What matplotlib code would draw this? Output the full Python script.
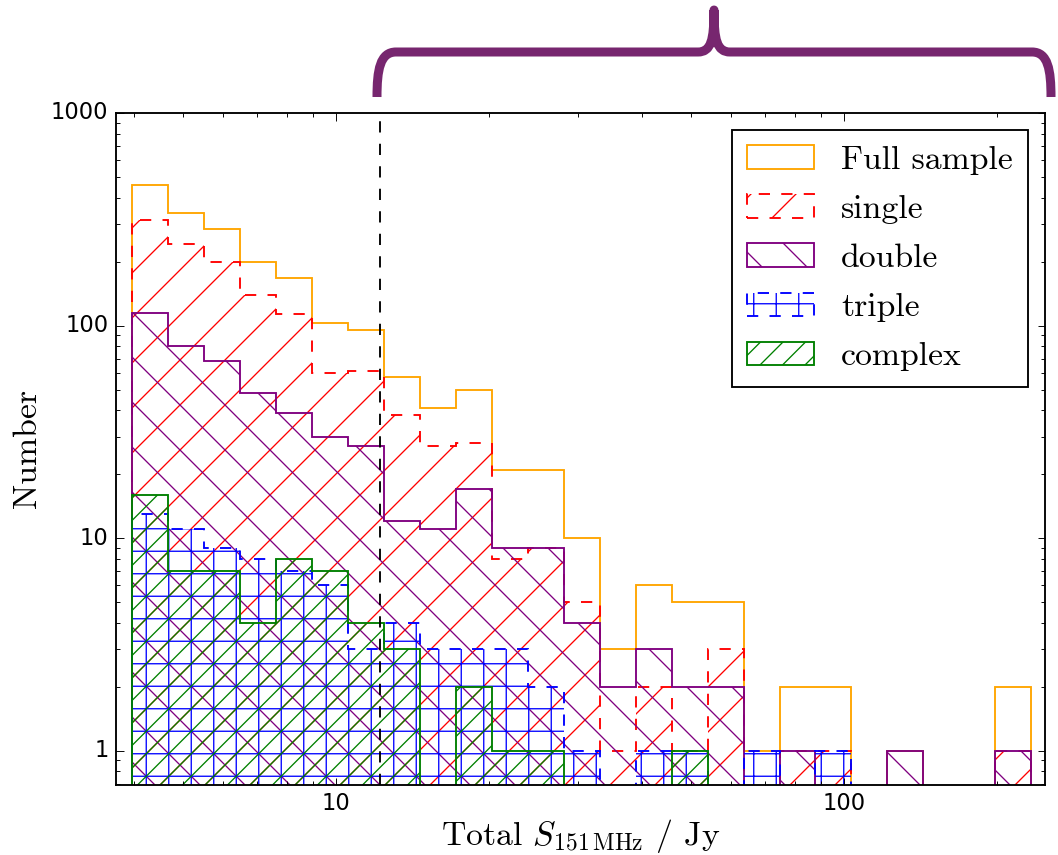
import numpy as np
import matplotlib
matplotlib.use("Agg")
import matplotlib.pyplot as plt
from matplotlib.path import Path
from matplotlib.patches import PathPatch
from matplotlib import ticker

plt.style.use("classic")
plt.rcParams["mathtext.fontset"] = "cm"
plt.rcParams["hatch.linewidth"] = 0.7
plt.rcParams["axes.unicode_minus"] = False

# 25 log-spaced flux bins (Jy)
flux_lo, flux_hi = 3.97, 234.0
edges = np.logspace(np.log10(flux_lo), np.log10(flux_hi), 26)

full_sample = [458, 339, 284, 199, 167, 103, 95, 57, 41, 50, 21, 21, 10, 3, 6, 5, 5, 1, 2, 2, 0, 1, 0, 0, 2]
single = [314, 241, 200, 139, 113, 60, 61, 38, 27, 28, 8, 9, 5, 1, 2, 1, 3, 0, 1, 1, 0, 0, 0, 0, 1]
double = [115, 80, 68, 48, 39, 30, 27, 12, 11, 17, 9, 9, 4, 2, 3, 2, 2, 0, 1, 0, 0, 1, 0, 0, 1]
triple = [13, 11, 9, 8, 7, 6, 3, 4, 3, 3, 3, 2, 1, 0, 1, 1, 0, 1, 0, 1, 0, 0, 0, 0, 0]
complex_ = [16, 7, 7, 4, 8, 7, 4, 3, 0, 2, 1, 1, 0, 0, 0, 1, 0, 0, 0, 0, 0, 0, 0, 0, 0]

flux_cut = 12.2

dpi = 135
fig = plt.figure(figsize=(1058 / dpi, 855 / dpi), dpi=dpi, facecolor="white")
ax = fig.add_axes([116 / 1058, 70 / 855, 929 / 1058, 672 / 855])

centers = np.sqrt(edges[:-1] * edges[1:])
series = [
    ("Full sample", full_sample, "orange", "-", None),
    ("single", single, "red", "--", "/"),
    ("double", double, "purple", "-", "\\"),
    ("triple", triple, "blue", "--", "+"),
    ("complex", complex_, "green", "-", "//"),
]
for label, counts, col, ls, hatch in series:
    ax.hist(centers, bins=edges, weights=counts, histtype="step", log=True,
            color=col, linestyle=ls, hatch=hatch, label=label, linewidth=1.0)

ax.axvline(flux_cut, color="k", linestyle="--", linewidth=1.0)

ax.set_xscale("log")
ax.set_yscale("log")
ax.set_xlim(3.69, 249)
ax.set_ylim(0.69, 1000)
fmt = ticker.FormatStrFormatter("%g")
ax.xaxis.set_major_formatter(fmt)
ax.yaxis.set_major_formatter(fmt)
ax.xaxis.set_minor_formatter(ticker.NullFormatter())
ax.yaxis.set_minor_formatter(ticker.NullFormatter())
ax.tick_params(labelsize=12)

ax.set_xlabel(r"Total $S_{151\,\mathrm{MHz}}$ / Jy", family="cmr10", fontsize=18,
              labelpad=1)
ax.set_ylabel("Number", family="cmr10", fontsize=18)

leg = ax.legend(loc="upper right", prop={"family": "cmr10", "size": 18},
                fancybox=False, frameon=True, labelspacing=0.58,
                borderpad=0.45, handletextpad=0.8)
leg.get_frame().set_edgecolor("k")

# curly brace above the bright end of the flux range (pixel coords, y down)
W, H = 1058.0, 855.0
def fpt(x, y):
    return (x / W, 1 - y / H)

c = 714
left = [(377, 97), (377, 70), (380, 52), (396, 52), (698, 52),
        (711, 52), (714, 40), (714, 10)]
right = [(2 * c - x, y) for x, y in reversed(left)]
verts = [fpt(*p) for p in left + right[1:]]
codes = [Path.MOVETO, Path.CURVE4, Path.CURVE4, Path.CURVE4, Path.LINETO,
         Path.CURVE4, Path.CURVE4, Path.CURVE4,
         Path.CURVE4, Path.CURVE4, Path.CURVE4, Path.LINETO,
         Path.CURVE4, Path.CURVE4, Path.CURVE4]
brace = PathPatch(Path(verts, codes), transform=fig.transFigure, fill=False,
                  edgecolor="#77266f", linewidth=4.8, capstyle="butt",
                  joinstyle="round")
fig.patches.append(brace)

fig.savefig("out.png", dpi=dpi, facecolor="white")
